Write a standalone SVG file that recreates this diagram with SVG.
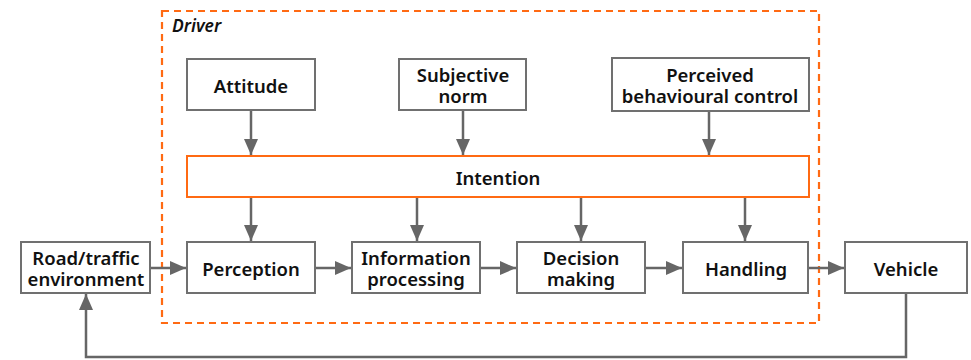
<svg xmlns="http://www.w3.org/2000/svg" width="971" height="360" viewBox="0 0 971 360">
<style>
.box{fill:#fff;stroke:#707070;stroke-width:2}
.obox{fill:#fff;stroke:#ff6a13;stroke-width:2}
.t{font-family:"Noto Sans","Open Sans",sans-serif;font-weight:600;font-size:18.5px;fill:#111;text-anchor:middle}
.c{stroke:#666;stroke-width:2.5;fill:none}
</style>
<defs>
<marker id="ah" markerUnits="userSpaceOnUse" markerWidth="16" markerHeight="14" refX="16" refY="7" orient="auto">
<path d="M0,0 L16,7 L0,14 Z" fill="#666"/>
</marker>
</defs>
<rect width="971" height="360" fill="#fff"/>
<g id="driver">
<rect x="162" y="11" width="657" height="312" fill="none" stroke="#ff6a13" stroke-width="2.2" stroke-dasharray="7,5"/>
<text x="172" y="32" font-family="Noto Sans,sans-serif" font-weight="600" font-style="italic" font-size="17.5" fill="#111">Driver</text>
</g>
<g id="connectors">
<line class="c" x1="251" y1="110" x2="251" y2="155" marker-end="url(#ah)"/>
<line class="c" x1="463" y1="110" x2="463" y2="155" marker-end="url(#ah)"/>
<line class="c" x1="709" y1="111" x2="709" y2="155" marker-end="url(#ah)"/>
<line class="c" x1="251" y1="197" x2="251" y2="241" marker-end="url(#ah)"/>
<line class="c" x1="417" y1="197" x2="417" y2="241" marker-end="url(#ah)"/>
<line class="c" x1="581" y1="197" x2="581" y2="241" marker-end="url(#ah)"/>
<line class="c" x1="745" y1="197" x2="745" y2="241" marker-end="url(#ah)"/>
<line class="c" x1="150" y1="268" x2="186" y2="268" marker-end="url(#ah)"/>
<line class="c" x1="315" y1="268" x2="351" y2="268" marker-end="url(#ah)"/>
<line class="c" x1="480" y1="268" x2="516" y2="268" marker-end="url(#ah)"/>
<line class="c" x1="645" y1="268" x2="682" y2="268" marker-end="url(#ah)"/>
<line class="c" x1="808" y1="268" x2="844" y2="268" marker-end="url(#ah)"/>
<polyline class="c" points="906,293 906,357 86,357 86,294" marker-end="url(#ah)"/>
</g>
<g id="attitude"><rect class="box" x="187" y="59" width="128" height="51"/><text class="t" x="251" y="93">Attitude</text></g>
<g id="subjective-norm"><rect class="box" x="399" y="59" width="127" height="51"/><text class="t" x="463" y="82">Subjective</text><text class="t" x="463" y="103">norm</text></g>
<g id="perceived-control"><rect class="box" x="612" y="58" width="197" height="53"/><text class="t" x="710" y="82">Perceived</text><text class="t" x="710" y="103">behavioural control</text></g>
<g id="intention"><rect class="obox" x="187" y="156" width="622" height="41"/><text class="t" x="498" y="185">Intention</text></g>
<g id="road"><rect class="box" x="21" y="242" width="129" height="51"/><text class="t" x="86" y="265">Road/traffic</text><text class="t" x="86" y="286">environment</text></g>
<g id="perception"><rect class="box" x="187" y="242" width="128" height="51"/><text class="t" x="251" y="276">Perception</text></g>
<g id="info-processing"><rect class="box" x="352" y="242" width="128" height="51"/><text class="t" x="416" y="265">Information</text><text class="t" x="416" y="286">processing</text></g>
<g id="decision-making"><rect class="box" x="517" y="242" width="128" height="51"/><text class="t" x="581" y="265">Decision</text><text class="t" x="581" y="286">making</text></g>
<g id="handling"><rect class="box" x="683" y="242" width="125" height="51"/><text class="t" x="746" y="276">Handling</text></g>
<g id="vehicle"><rect class="box" x="845" y="242" width="122" height="51"/><text class="t" x="906" y="276">Vehicle</text></g>
</svg>
